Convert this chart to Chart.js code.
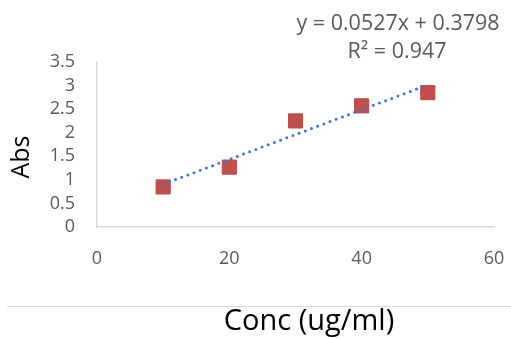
<!DOCTYPE html>
<html>
<head>
<meta charset="utf-8">
<script src="https://cdn.jsdelivr.net/npm/chart.js@4.4.1/dist/chart.umd.min.js"></script>
<style>
  body { margin: 0; background: #fff; }
</style>
</head>
<body>
<canvas id="calib" width="511" height="338"></canvas>
<script>
// Data
const concValues = [10, 20, 30, 40, 50];
const absValues = [0.85, 1.27, 2.25, 2.57, 2.85];
// Trendline ends (from the printed equation)
const trendX = [10, 50];
const trendY = [0.907, 3.015];
const xTicks = [0, 20, 40, 60];
const yTicks = [0, 0.5, 1, 1.5, 2, 2.5, 3, 3.5];
const equationLines = ["y = 0.0527x + 0.3798", "R² = 0.947"];
const xTitle = "Conc (ug/ml)";
const yTitle = "Abs";

const FONT = "'Open Sans', sans-serif";

// Equation, separator line and axis titles
const extrasPlugin = {
    id: "extras",
    afterDraw(chart) {
        const ctx = chart.ctx;
        ctx.save();
        ctx.fillStyle = "#595959";
        ctx.font = "21.5px " + FONT;
        ctx.textAlign = "center";
        ctx.textBaseline = "middle";
        ctx.fillText(equationLines[0], 398, 24);
        ctx.fillText(equationLines[1], 397, 52);

        // thin grey separator
        ctx.strokeStyle = "#d9d9d9";
        ctx.lineWidth = 1;
        ctx.beginPath();
        ctx.moveTo(7, 306.5);
        ctx.lineTo(511, 306.5);
        ctx.stroke();

        ctx.fillStyle = "#000";
        ctx.font = "29px " + FONT;
        ctx.fillText(xTitle, 309, 322);

        ctx.translate(22, 157);
        ctx.rotate(-Math.PI / 2);
        ctx.font = "25px " + FONT;
        ctx.fillText(yTitle, 0, 0);
        ctx.restore();
    }
};

const scatterData = concValues.map((x, i) => ({ x: x, y: absValues[i] }));
const trendData = trendX.map((x, i) => ({ x: x, y: trendY[i] }));

let ctx = document.getElementById("calib").getContext("2d");
new Chart(ctx, {
    type: "scatter",
    data: {
        datasets: [
            {
                label: "Trend",
                type: "line",
                data: trendData,
                borderColor: "#4472C4",
                borderWidth: 3,
                borderDash: [0, 6.6],
                borderCapStyle: "round",
                pointRadius: 0,
                fill: false
            },
            {
                label: "Abs",
                data: scatterData,
                pointStyle: "rect",
                pointRadius: 10,
                backgroundColor: "#C0504D",
                borderColor: "#B84946",
                borderWidth: 1
            }
        ]
    },
    options: {
        responsive: false,
        animation: false,
        layout: { padding: { left: 0, top: 62, right: 17, bottom: 0 } },
        plugins: {
            legend: { display: false },
            tooltip: { enabled: false }
        },
        scales: {
            x: {
                type: "linear",
                min: 0,
                max: 60,
                afterBuildTicks: axis => { axis.ticks = xTicks.map(v => ({ value: v })); },
                afterFit: axis => {
                    axis.height = 111;
                    axis.paddingLeft = 0;
                    axis.paddingRight = 0;
                },
                grid: { display: false, drawTicks: false },
                border: { display: true, color: "#d9d9d9", width: 1.5 },
                ticks: { color: "#595959", font: { family: FONT, size: 18 }, padding: 21, maxRotation: 0 }
            },
            y: {
                type: "linear",
                min: 0,
                max: 3.5,
                afterBuildTicks: axis => { axis.ticks = yTicks.map(v => ({ value: v })); },
                afterFit: axis => { axis.width = 97; },
                grid: { display: false, drawTicks: false },
                border: { display: true, color: "#d9d9d9", width: 1.5 },
                ticks: {
                    color: "#595959",
                    font: { family: FONT, size: 18 },
                    padding: 22,
                    autoSkip: false,
                    callback: v => String(v)
                }
            }
        }
    },
    plugins: [extrasPlugin]
});
</script>
</body>
</html>
